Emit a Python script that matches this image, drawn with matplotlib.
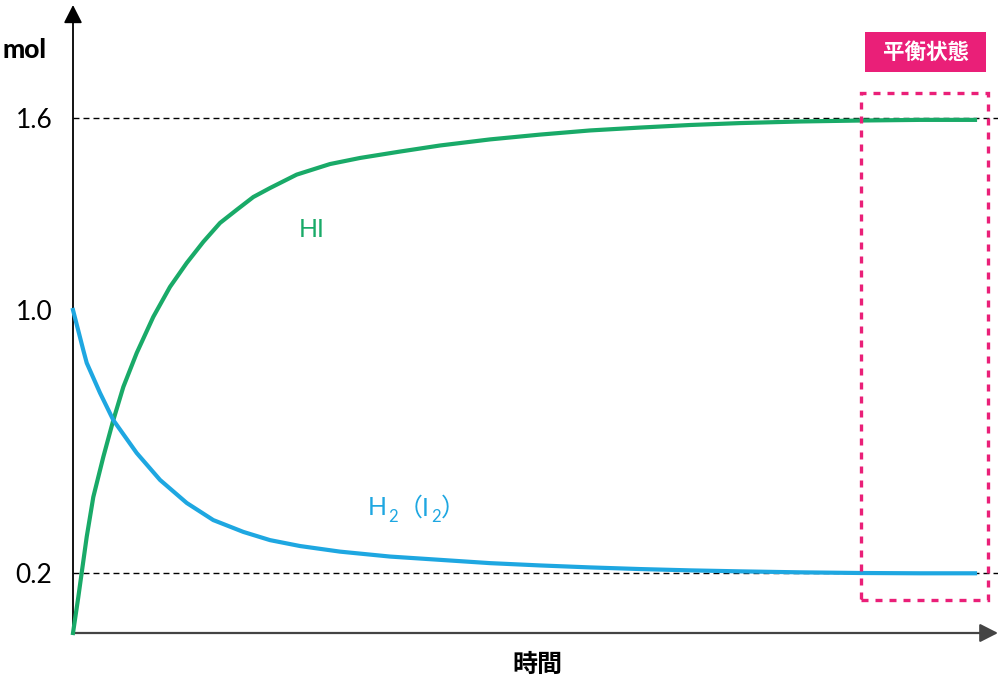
from matplotlib import pyplot as plt
from matplotlib.patches import Rectangle
import numpy as np

plt.rcParams['font.family'] = ['Lato', 'Noto Sans', 'Noto Sans CJK JP', 'DejaVu Sans']

# data (time in arbitrary units, amounts in mol)
t_hi = [0, 0.059, 0.096, 0.152, 0.225, 0.336, 0.447, 0.558, 0.706, 0.89,
        1.075, 1.261, 1.445, 1.63, 1.815, 1.999, 2.184, 2.48, 2.849, 3.182, 3.625,
        4.069, 4.623, 5.177, 5.732, 6.286, 6.84, 7.395, 8.06, 8.725, 9.39, 10.0]
hi = [0, 0.12, 0.2, 0.31, 0.431, 0.553, 0.665, 0.766, 0.869, 0.979,
      1.072, 1.147, 1.213, 1.272, 1.313, 1.353, 1.381, 1.423, 1.456, 1.475, 1.495,
      1.514, 1.533, 1.548, 1.561, 1.57, 1.578, 1.584, 1.589, 1.592, 1.594, 1.594]
t_h2 = [0, 0.114, 0.152, 0.299, 0.447, 0.706, 0.965, 1.261, 1.555, 1.888, 2.184,
        2.517, 2.96, 3.514, 4.069, 4.623, 5.177, 5.732, 6.286, 6.84, 7.395, 8.06,
        8.725, 9.39, 10.0]
h2 = [1.0, 0.878, 0.839, 0.748, 0.665, 0.565, 0.483, 0.413, 0.361, 0.325, 0.3,
      0.282, 0.265, 0.25, 0.24, 0.23, 0.223, 0.217, 0.212, 0.208, 0.205, 0.202,
      0.2, 0.199, 0.199]
yticks = [0.2, 1.0, 1.6]
ytick_labels = ["0.2", "1.0", "1.6"]
eq_box = (8.736, 10.144, 0.11, 1.678)   # equilibrium region (t0, t1, y0, y1)

green = '#19aa68'
blue = '#1ea7e1'
pink = '#ea1f78'

# the drawing is not to scale on the y axis, so use a piecewise scale
vals = [-1.0, 0.0, 0.2, 1.0, 1.6, 3.0]
hts = [-300.0, 0.0, 60.0, 323.0, 515.0, 963.0]
def fwd(v):
    return np.interp(v, vals, hts)
def inv(h):
    return np.interp(h, hts, vals)

fig = plt.figure(figsize=(10, 6.8), dpi=100)
ax = fig.add_axes([0.073, 47/680, 0.925, 628/680])
ax.set_yscale('function', functions=(fwd, inv))
ax.set_xlim(0, 10.255)
ax.set_ylim(0, 1.953)

for s in ax.spines.values():
    s.set_visible(False)
ax.set_xticks([])
ax.set_yticks(yticks)
ax.set_yticklabels(ytick_labels, fontsize=19)
ax.tick_params(axis='y', length=0, pad=15)

# axes with arrows
ax.annotate('', xy=(0, 1), xytext=(0, 0), xycoords='axes fraction',
            arrowprops=dict(arrowstyle='-|>,head_length=0.55,head_width=0.28', color='black',
                            lw=1.3, mutation_scale=20, shrinkA=0, shrinkB=0))
ax.annotate('', xy=(1, 0), xytext=(0, 0), xycoords='axes fraction',
            arrowprops=dict(arrowstyle='-|>,head_length=0.55,head_width=0.28', color='#444444',
                            lw=1.6, mutation_scale=20, shrinkA=0, shrinkB=0))

for v in [1.6, 0.2]:
    ax.axhline(v, color='black', lw=1.0, ls=(0, (4.3, 2.9)), zorder=1)

ax.plot(t_hi, hi, color=green, lw=3, solid_joinstyle='round', clip_on=False, zorder=3)
ax.plot(t_h2, h2, color=blue, lw=3, solid_joinstyle='round', clip_on=False, zorder=3)

ax.text(2.5, 1.25, 'HI', color=green, fontsize=18, ha='left', va='center')

# H2 (I2) label built from pieces so the subscripts sit low
ly = 0.375
p1 = ax.text(3.27, ly, 'H', color=blue, fontsize=18, ha='left', va='baseline')
p2 = ax.annotate('2', xy=(1, ly), xycoords=(p1, 'data'), xytext=(1, -5),
                 textcoords='offset points', color=blue, fontsize=12, va='baseline')
p3 = ax.annotate('（I', xy=(1, ly), xycoords=(p2, 'data'), xytext=(0, 0),
                 textcoords='offset points', color=blue, fontsize=18, va='baseline')
p4 = ax.annotate('2', xy=(1, ly), xycoords=(p3, 'data'), xytext=(1, -5),
                 textcoords='offset points', color=blue, fontsize=12, va='baseline')
ax.annotate('）', xy=(1, ly), xycoords=(p4, 'data'), xytext=(0, 0),
            textcoords='offset points', color=blue, fontsize=18, va='baseline')

x0, x1, y0, y1 = eq_box
ax.add_patch(Rectangle((x0, y0), x1 - x0, y1 - y0, fill=False, edgecolor=pink,
                       lw=2.4, ls=(0, (2.1, 2.1)), zorder=4, clip_on=False))

fig.patches.append(Rectangle((0.865, 1 - 72/680), 0.121, 40/680, transform=fig.transFigure,
                             facecolor=pink, edgecolor='none'))
fig.text(0.9255, 1 - 52/680, '平衡状態', color='white', fontsize=15.5, fontweight='bold',
         ha='center', va='center', family=['Noto Sans CJK JP'])

ax.set_ylabel('mol', rotation=0, fontsize=19, fontweight='black', ha='left', va='center')
ax.yaxis.set_label_coords(-0.076, (633 - 50) / 628)
ax.set_xlabel('時間', fontsize=18, fontweight='bold', va='center', family=['Noto Sans CJK JP'])
ax.xaxis.set_label_coords(0.5016, -32 / 628)

fig.savefig('out.png', dpi=100)
